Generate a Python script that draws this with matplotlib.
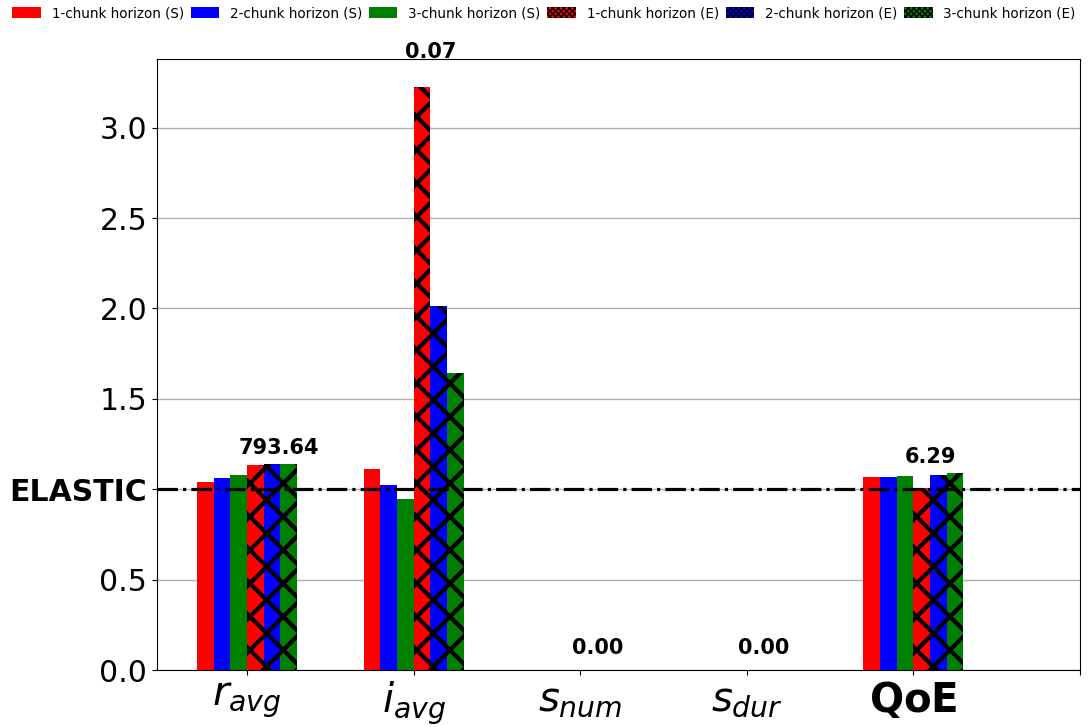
import numpy as np
import matplotlib
matplotlib.use("Agg")
import matplotlib.pyplot as plt
import matplotlib.hatch as mhatch
from matplotlib.patches import Patch, Rectangle
from matplotlib.legend_handler import HandlerPatch
from matplotlib.path import Path

# metrics on the x axis
metrics = [r'$r_{avg}$', r'$i_{avg}$', r'$s_{num}$', r'$s_{dur}$', r'$\mathbf{QoE}$']

# normalised values (relative to ELASTIC)
s1 = [1.04, 1.11, 0.0, 0.0, 1.065]
s2 = [1.06, 1.025, 0.0, 0.0, 1.065]
s3 = [1.08, 0.947, 0.0, 0.0, 1.076]
e1 = [1.136, 3.224, 0.0, 0.0, 1.006]
e2 = [1.14, 2.011, 0.0, 0.0, 1.08]
e3 = [1.14, 1.645, 0.0, 0.0, 1.09]

# absolute value of the ELASTIC baseline, written above each group
elastic_values = ["793.64", "0.07", "0.00", "0.00", "6.29"]

series = [
    ("1-chunk horizon (S)", s1, "red", None),
    ("2-chunk horizon (S)", s2, "blue", None),
    ("3-chunk horizon (S)", s3, "green", None),
    ("1-chunk horizon (E)", e1, "red", "x"),
    ("2-chunk horizon (E)", e2, "blue", "x"),
    ("3-chunk horizon (E)", e3, "green", "x"),
]


# coarser 45 deg cross hatch (half the default line density)
class _WideHatch(mhatch.HatchPatternBase):
    chars = '/xX'
    flip = False

    def __init__(self, hatch, density):
        n = int(sum(hatch.count(c) for c in self.chars) * density / 2)
        self.x0 = np.arange(-1.0, 1.0 + 1e-9, 1.0 / n) if n else np.array([])
        self.num_vertices = 2 * len(self.x0)

    def set_vertices_and_codes(self, vertices, codes):
        if self.flip:
            vertices[0::2, 0] = self.x0 + 1.0
            vertices[1::2, 0] = self.x0
        else:
            vertices[0::2, 0] = self.x0
            vertices[1::2, 0] = self.x0 + 1.0
        vertices[0::2, 1] = 0.0
        vertices[1::2, 1] = 1.0
        codes[0::2] = Path.MOVETO
        codes[1::2] = Path.LINETO


class _WideHatchBack(_WideHatch):
    chars = '\\xX'
    flip = True


mhatch._hatch_types = [h for h in mhatch._hatch_types
                       if h not in (mhatch.NorthEastHatch, mhatch.SouthEastHatch)]
mhatch._hatch_types += [_WideHatch, _WideHatchBack]

plt.rcParams['hatch.linewidth'] = 3.0
plt.rcParams['hatch.color'] = 'black'


class ThinHatchRect(Rectangle):
    # legend swatches use a thinner hatch line
    def draw(self, renderer):
        with plt.rc_context({'hatch.linewidth': 1.0}):
            if hasattr(self, 'set_hatch_linewidth'):
                self.set_hatch_linewidth(1.0)
            super().draw(renderer)


def thin_patch(legend, orig_handle, xdescent, ydescent, width, height, fontsize):
    return ThinHatchRect((-xdescent, -ydescent), width, height)


fig = plt.figure(figsize=(10.88, 7.27), dpi=100)
ax = fig.add_axes([0.1443, 0.0784, 0.8483, 0.8404])

x = np.arange(len(metrics))
width = 0.1
for k, (name, vals, color, hatch) in enumerate(series):
    offset = (k - 2.5) * width
    ax.bar(x + offset, vals, width, color=color, hatch=hatch, linewidth=0,
           label=name, zorder=3)

ax.axhline(1.0, color='black', linestyle='-.', linewidth=2.3, zorder=4)

for i, lab in enumerate(elastic_values):
    top = max(s[1][i] for s in series)
    ax.text(i - 0.05, max(top * 1.05, 0.09), lab, fontsize=15, fontweight='bold')

ax.set_xlim(-0.54, 5.0)
ax.set_ylim(0, 3.38)
ax.set_xticks(list(x) + [5])
ax.set_xticklabels(metrics + [''], fontsize=29)

yt = [0.0, 0.5, 1.0, 1.5, 2.0, 2.5, 3.0]
ax.set_yticks(yt)
ax.set_yticklabels(["%.1f" % v if v != 1.0 else "ELASTIC" for v in yt], fontsize=21.5)
for t in ax.get_yticklabels():
    if t.get_text() == "ELASTIC":
        t.set_fontweight('bold')

ax.yaxis.grid(True, color='#b0b0b0', linewidth=1, zorder=0)
ax.set_axisbelow(True)

handles = [Patch(facecolor=color, hatch=None if hatch is None else 'xxxxxx',
                 linewidth=0, label=name)
           for name, vals, color, hatch in series]

fig.legend(handles=handles, loc='upper center', bbox_to_anchor=(0.5, 1.008), ncol=6,
           frameon=False, fontsize=9.75, handlelength=2.1, handleheight=0.8,
           handletextpad=0.8, columnspacing=0.5,
           handler_map={Patch: HandlerPatch(patch_func=thin_patch)})

fig.savefig("out.png", dpi=100)
